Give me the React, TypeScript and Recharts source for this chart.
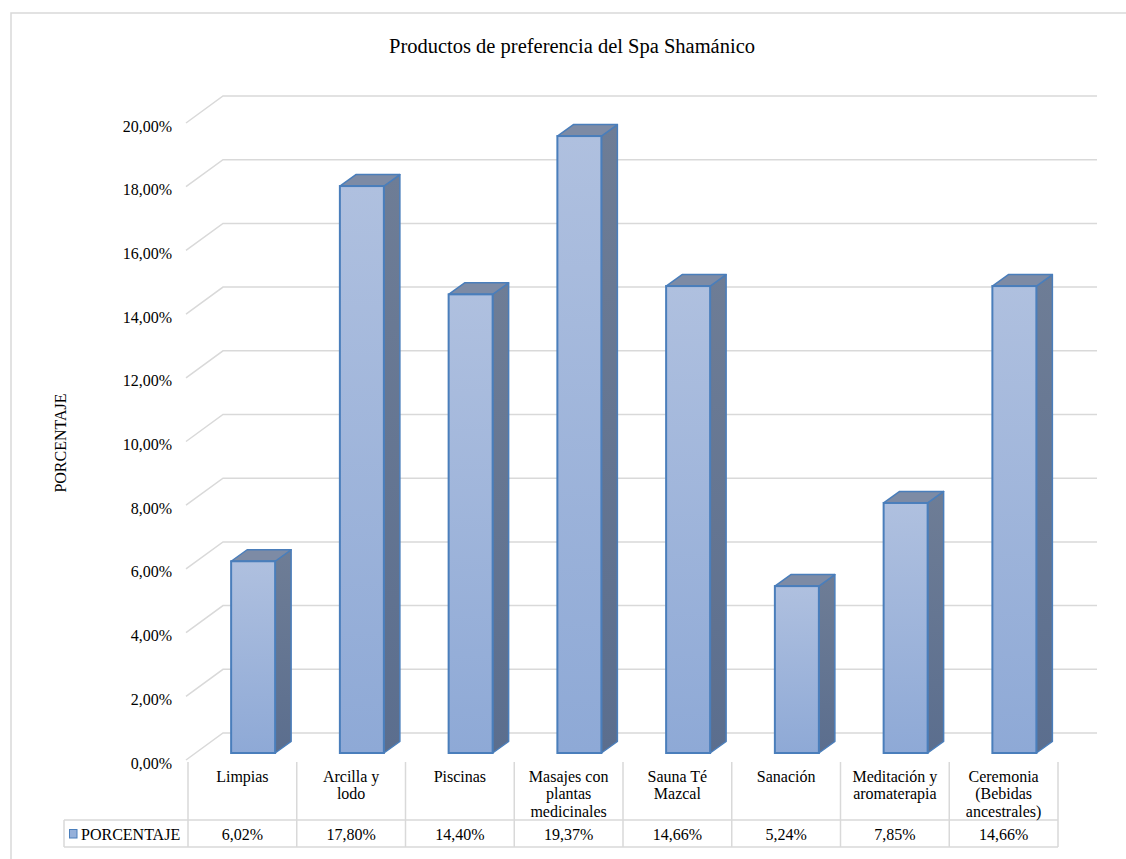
import React from "react";
import { BarChart, Bar, XAxis, YAxis, CartesianGrid } from "recharts";

const categories = [
  "Limpias",
  "Arcilla y\nlodo",
  "Piscinas",
  "Masajes con\nplantas\nmedicinales",
  "Sauna Té\nMazcal",
  "Sanación",
  "Meditación y\naromaterapia",
  "Ceremonia\n(Bebidas\nancestrales)",
];
const values = [6.02, 17.8, 14.4, 19.37, 14.66, 5.24, 7.85, 14.66];
const yTicks = [0, 2, 4, 6, 8, 10, 12, 14, 16, 18, 20];
const seriesName = "PORCENTAJE";
const title = "Productos de preferencia del Spa Shamánico";

const data = categories.map((c, i) => ({ name: c, value: values[i] }));

const W = 1126;
const H = 859;
const PLOT_LEFT = 188;
const PLOT_RIGHT = 1058;
const PLOT_TOP = 116;
const PLOT_BOTTOM = 753;
const COL_W = (PLOT_RIGHT - PLOT_LEFT) / categories.length;
const FONT = "Liberation Serif";
const TXT = { fontFamily: FONT, fontSize: 16 };
const GRID = "#d9d9d9";
const EDGE = "#4a7ebb";
const DEPTH_X = 16;
const DEPTH_Y = 11.5;
const BAR_SHIFT = 10.5;

const fmt = (v: number) => v.toFixed(2).replace(".", ",") + "%";

function Bar3D(props: any) {
  const { x, y, width, height, index } = props;
  if (width == null || height == null) return null;
  const bx = x + BAR_SHIFT;
  const gid = `frontGrad${index}`;
  const sid = `sideGrad${index}`;
  return (
    <g>
      <defs>
        <linearGradient id={gid} x1="0" y1="0" x2="0" y2="1">
          <stop offset="0%" stopColor="#afc0df" />
          <stop offset="100%" stopColor="#8ea9d6" />
        </linearGradient>
        <linearGradient id={sid} x1="0" y1="0" x2="0" y2="1">
          <stop offset="0%" stopColor="#6e7d96" />
          <stop offset="100%" stopColor="#5b6e8e" />
        </linearGradient>
      </defs>
      <polygon
        points={`${bx + width},${y} ${bx + width + DEPTH_X},${y - DEPTH_Y} ${bx + width + DEPTH_X},${y + height - DEPTH_Y} ${bx + width},${y + height}`}
        fill={`url(#${sid})`}
        stroke={EDGE}
        strokeWidth={1.5}
        strokeLinejoin="round"
      />
      <polygon
        points={`${bx},${y} ${bx + DEPTH_X},${y - DEPTH_Y} ${bx + width + DEPTH_X},${y - DEPTH_Y} ${bx + width},${y}`}
        fill="#7d8ba5"
        stroke={EDGE}
        strokeWidth={1.5}
        strokeLinejoin="round"
      />
      <rect x={bx} y={y} width={width} height={height} fill={`url(#${gid})`} stroke={EDGE} strokeWidth={2} />
    </g>
  );
}

function GridLine(props: any) {
  const { y1 } = props;
  const y = y1;
  return (
    <polyline
      key={`g-${y}`}
      points={`${PLOT_LEFT - 2},${y + 7} ${PLOT_LEFT + 35},${y - 20} ${PLOT_RIGHT + 39},${y - 20}`}
      fill="none"
      stroke={GRID}
      strokeWidth={1.5}
    />
  );
}

function T(props: any) {
  const { children, size, ...rest } = props;
  return (
    <text
      fontFamily={FONT}
      fontSize={size || 16}
      style={{ fontFamily: FONT, fontSize: size || 16 }}
      fill="#000"
      dominantBaseline="central"
      {...rest}
    >
      {children}
    </text>
  );
}

function YTick(props: any) {
  const { y, payload } = props;
  return (
    <T x={PLOT_LEFT - 16} y={y + 10} textAnchor="end">
      {fmt(payload.value)}
    </T>
  );
}

function TableTick(props: any) {
  const { x, payload, index } = props;
  const idx = index != null ? index : categories.indexOf(payload.value);
  const lines = String(payload.value).split("\n");
  const left = x - COL_W / 2;
  const right = x + COL_W / 2;
  const top = PLOT_BOTTOM + 9;
  const sep = PLOT_BOTTOM + 67;
  const bottom = PLOT_BOTTOM + 94;
  const last = idx === categories.length - 1;
  return (
    <g>
      <line x1={left} y1={top} x2={left} y2={bottom} stroke={GRID} strokeWidth={1.5} />
      {last && <line x1={right} y1={top} x2={right} y2={bottom} stroke={GRID} strokeWidth={1.5} />}
      {idx === 0 && (
        <g>
          <line x1={64} y1={sep} x2={PLOT_RIGHT} y2={sep} stroke={GRID} strokeWidth={1.5} />
          <line x1={64} y1={bottom} x2={PLOT_RIGHT} y2={bottom} stroke={GRID} strokeWidth={1.5} />
          <line x1={64} y1={sep} x2={64} y2={bottom} stroke={GRID} strokeWidth={1.5} />
          <rect x={69.5} y={sep + 9.5} width={7.5} height={8.5} fill="#95b0da" stroke={EDGE} strokeWidth={1} />
          <T x={81} y={(sep + bottom) / 2 + 1}>
            {seriesName}
          </T>
        </g>
      )}
      {lines.map((ln, i) => (
        <T key={i} x={x} y={PLOT_BOTTOM + 23 + i * 17.5} textAnchor="middle">
          {ln}
        </T>
      ))}
      <T x={x} y={(sep + bottom) / 2 + 1} textAnchor="middle">
        {fmt(values[idx])}
      </T>
    </g>
  );
}

export default function App() {
  return (
    <div style={{ position: "absolute", left: 0, top: 0, width: W, height: H, background: "#fff", fontFamily: FONT }}>
      <svg width={W} height={H} style={{ position: "absolute", left: 0, top: 0 }}>
        <rect x={11} y={13} width={W + 50} height={H + 50} fill="#fff" stroke={GRID} strokeWidth={1.5} />
        <T x={572} y={46} textAnchor="middle" size={20.5}>
          {title}
        </T>
        <T x={60} y={443} textAnchor="middle" transform="rotate(-90 60 443)">
          {seriesName}
        </T>
      </svg>
      <div style={{ position: "absolute", left: 0, top: 0 }}>
        <BarChart
          width={W}
          height={H}
          data={data}
          margin={{ top: PLOT_TOP, right: W - PLOT_RIGHT, bottom: 0, left: 0 }}
          barCategoryGap="30%"
        >
          <CartesianGrid vertical={false} horizontal={(p: any) => <GridLine {...p} />} />
          <YAxis
            type="number"
            domain={[0, 20]}
            ticks={yTicks}
            width={PLOT_LEFT}
            axisLine={false}
            tickLine={false}
            tick={<YTick />}
            interval={0}
          />
          <XAxis
            dataKey="name"
            height={H - PLOT_BOTTOM}
            axisLine={false}
            tickLine={false}
            interval={0}
            tick={<TableTick />}
          />
          <Bar dataKey="value" shape={<Bar3D />} isAnimationActive={false} />
        </BarChart>
      </div>
    </div>
  );
}
